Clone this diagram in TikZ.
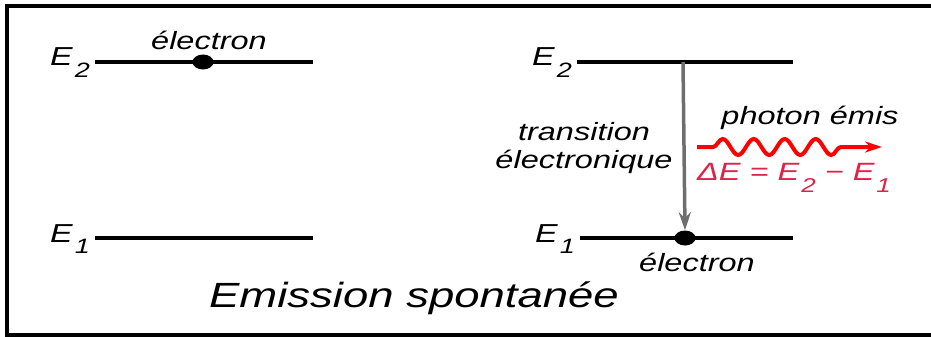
\documentclass[tikz,border=0pt]{standalone}
\usepackage{fontspec}
\usetikzlibrary{shapes.geometric,arrows.meta,decorations.pathmorphing}
\newfontfamily\lblfont{Liberation Sans}[FakeStretch=1.3]
\newcommand\lvlname[1]{E\kern2pt\raisebox{-0.45em}{\scalebox{0.8}{#1}}}
\definecolor{deltared}{RGB}{222,34,72}
\definecolor{arrowgray}{RGB}{110,110,110}
\begin{document}
\begin{tikzpicture}[x=1pt,y=-1pt,
  level/.style={line width=3.5pt},
  lbl/.style={font=\lblfont\itshape\fontsize{25}{28}\selectfont, inner sep=0pt},
  elbl/.style={lbl, font=\lblfont\itshape\fontsize{26}{28}\selectfont, anchor=base east},
  dot/.style={ellipse, fill=black, minimum width=21pt, minimum height=15pt, inner sep=0pt}]
\useasboundingbox (0,0) rectangle (931,337);
\draw[line width=4pt] (940,6) -- (7,6) -- (7,335) -- (940,335);
% left: electron on the upper level
\coordinate (upA1) at (95,62);
\coordinate (upA2) at (313,62);
\coordinate (lowA1) at (95,238);
\coordinate (lowA2) at (313,238);
\draw[level] (upA1) -- (upA2);
\draw[level] (lowA1) -- (lowA2);
\node[dot] (dotA) at (203,62) {};
\node[lbl] (elecA) at (209,40) {électron};
\node[elbl] (EtwoA) at (90,66) {\lvlname{2}};
\node[elbl] (EoneA) at (90,242) {\lvlname{1}};
% right: electron dropped to the lower level
\coordinate (upB1) at (577,62);
\coordinate (upB2) at (793,62);
\coordinate (lowB1) at (580,238);
\coordinate (lowB2) at (793,238);
\draw[level] (upB1) -- (upB2);
\draw[level] (lowB1) -- (lowB2);
\node[dot] (dotB) at (685,238) {};
\coordinate (start) at (683,62);
\node[lbl] (elecB) at (697,262) {électron};
\node[elbl] (EtwoB) at (572,66) {\lvlname{2}};
\node[elbl] (EoneB) at (575,242) {\lvlname{1}};
\draw[arrowgray, line width=3.5pt, -{Stealth[length=18pt,width=12pt]}] (start) -- (dotB.north);
\node[lbl, align=center] (trans) at (584,148) {transition\\électronique};
\node[lbl] (photon) at (810,118) {photon émis};
\coordinate (waveL) at (697,147);
\coordinate (waveR) at (882,147);
\draw[red, line width=4pt, -{Stealth[length=17pt,width=11pt]},
  decorate, decoration={snake, segment length=31pt, amplitude=8pt, pre length=16pt, post length=33pt}] (waveL) -- (waveR);
\node[lbl, text=deltared] (delta) at (794,178) {ΔE = \lvlname{2} − \lvlname{1}};
\node[lbl, font=\lblfont\itshape\fontsize{35}{38}\selectfont] (title) at (414,298) {Emission spontanée};
\end{tikzpicture}
\end{document}
